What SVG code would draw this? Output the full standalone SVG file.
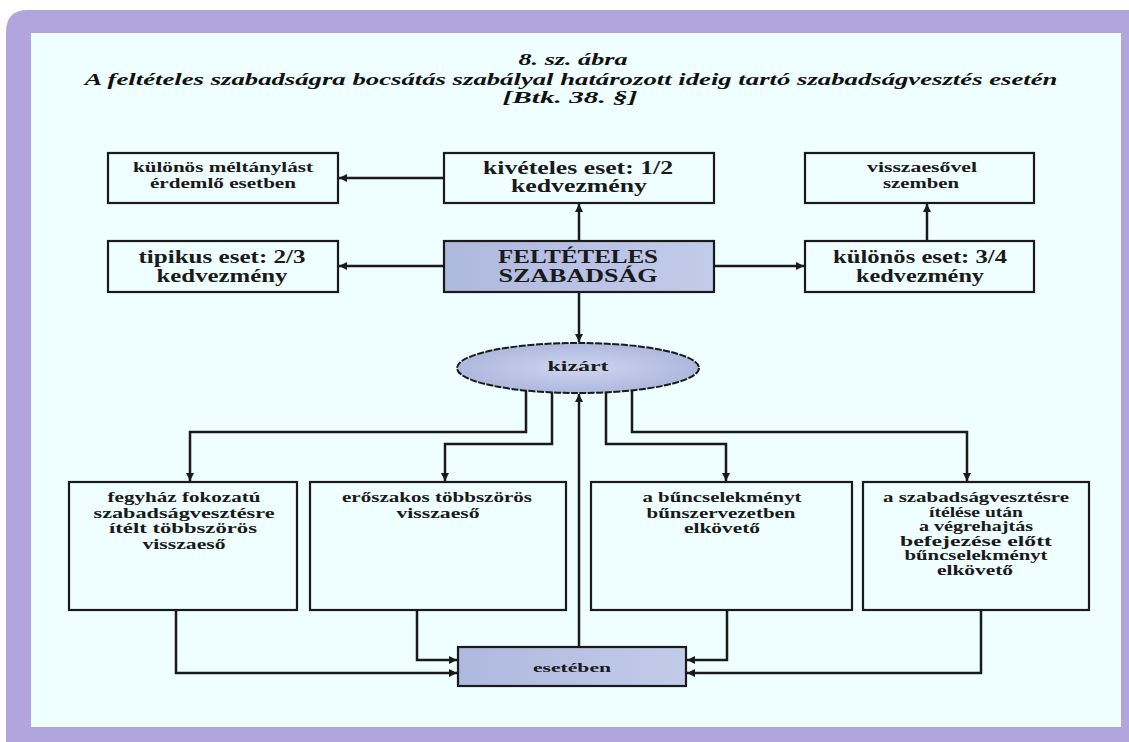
<svg xmlns="http://www.w3.org/2000/svg" width="1129" height="742" viewBox="0 0 1129 742">
<defs>
<style>
.t{font-family:"Liberation Serif","Times New Roman",serif;font-weight:bold;fill:#1a1a1a;text-anchor:middle}
.ti{font-family:"Liberation Serif","Times New Roman",serif;font-weight:bold;font-style:italic;fill:#111;text-anchor:middle;font-size:17px}
.box{fill:#effefe;stroke:#1a1a1a;stroke-width:2.2}
.hl{fill:url(#g);stroke:#1a1a1a;stroke-width:2.2}
.c{fill:none;stroke:#1a1a1a;stroke-width:2.5;marker-end:url(#a)}
.n{fill:none;stroke:#1a1a1a;stroke-width:2.5}
.f18{font-size:18px}.f14{font-size:14px}.f15{font-size:15px}.f13{font-size:13px}
</style>
<linearGradient id="g" x1="0" y1="0" x2="1" y2="0">
<stop offset="0" stop-color="#aeb9de"/>
<stop offset="1" stop-color="#c3cbea"/>
</linearGradient>
<radialGradient id="eg" cx="0.5" cy="0.5" r="0.5">
<stop offset="0" stop-color="#cfd6f0"/>
<stop offset="1" stop-color="#adb8de"/>
</radialGradient>
<marker id="a" viewBox="0 0 10 10" refX="10" refY="5" markerWidth="10" markerHeight="8" markerUnits="userSpaceOnUse" orient="auto">
<path d="M0,0 L10,5 L0,10 z" fill="#1a1a1a"/>
</marker>
</defs>
<rect x="0" y="0" width="1129" height="742" fill="#ffffff"/>
<path d="M28,10 H1129 V742 H6 V32 Q6,10 28,10 Z" fill="#b0a5dc"/>
<rect x="31" y="33" width="1090" height="694" fill="#effefe"/>

<g id="title">
<text class="ti" x="573" y="65" textLength="109" lengthAdjust="spacingAndGlyphs">8. sz. ábra</text>
<text class="ti" x="571" y="85" textLength="973" lengthAdjust="spacingAndGlyphs">A feltételes szabadságra bocsátás szabályal határozott ideig tartó szabadságvesztés esetén</text>
<text class="ti" x="570" y="103" textLength="135" lengthAdjust="spacingAndGlyphs">[Btk. 38. §]</text>
</g>

<g id="connectors">
<path class="c" d="M444,178 H339"/>
<path class="c" d="M579,241 V204"/>
<path class="c" d="M444,266 H339"/>
<path class="c" d="M714,266 H804"/>
<path class="c" d="M927,241 V204"/>
<path class="c" d="M579,292 V342"/>
<path class="c" d="M526,389 V432 H190 V481"/>
<path class="c" d="M552,391 V444 H445 V481"/>
<path class="c" d="M606,391 V444 H726 V481"/>
<path class="c" d="M632,389 V432 H967 V481"/>
<path class="c" d="M579,647 V394"/>
<path class="c" d="M176,610 V673 H457"/>
<path class="c" d="M417,610 V660 H457"/>
<path class="c" d="M727,610 V660 H687"/>
<path class="c" d="M981,610 V673 H687"/>
</g>

<g id="n_meltanylast">
<rect class="box" x="108" y="153" width="230" height="50"/>
<text class="t f14" x="223" y="172" textLength="180" lengthAdjust="spacingAndGlyphs">különös méltánylást</text>
<text class="t f14" x="223" y="188" textLength="146" lengthAdjust="spacingAndGlyphs">érdemlő esetben</text>
</g>

<g id="n_kiveteles">
<rect class="box" x="444" y="153" width="270" height="50"/>
<text class="t f18" x="578" y="174" textLength="190" lengthAdjust="spacingAndGlyphs">kivételes eset: 1/2</text>
<text class="t f18" x="579" y="192" textLength="136" lengthAdjust="spacingAndGlyphs">kedvezmény</text>
</g>

<g id="n_visszaesovel">
<rect class="box" x="805" y="153" width="229" height="50"/>
<text class="t f14" x="922" y="172" textLength="110" lengthAdjust="spacingAndGlyphs">visszaesővel</text>
<text class="t f14" x="921" y="188" textLength="76" lengthAdjust="spacingAndGlyphs">szemben</text>
</g>

<g id="n_tipikus">
<rect class="box" x="108" y="241" width="230" height="51"/>
<text class="t f18" x="222" y="263" textLength="167" lengthAdjust="spacingAndGlyphs">tipikus eset: 2/3</text>
<text class="t f18" x="222" y="282" textLength="131" lengthAdjust="spacingAndGlyphs">kedvezmény</text>
</g>

<g id="n_felteteles">
<rect class="hl" x="444" y="241" width="270" height="51"/>
<text class="t f18" x="578" y="263" textLength="160" lengthAdjust="spacingAndGlyphs">FELTÉTELES</text>
<text class="t f18" x="578" y="282" textLength="159" lengthAdjust="spacingAndGlyphs">SZABADSÁG</text>
</g>

<g id="n_kulonos">
<rect class="box" x="805" y="241" width="229" height="51"/>
<text class="t f18" x="920" y="263" textLength="174" lengthAdjust="spacingAndGlyphs">különös eset: 3/4</text>
<text class="t f18" x="920" y="282" textLength="128" lengthAdjust="spacingAndGlyphs">kedvezmény</text>
</g>

<g id="n_kizart">
<ellipse cx="578" cy="368" rx="121" ry="25" fill="url(#eg)" stroke="#1a1a1a" stroke-width="2" stroke-dasharray="7,1.5"/>
<text class="t f15" x="578" y="371" textLength="61" lengthAdjust="spacingAndGlyphs">kizárt</text>
</g>

<g id="n_fegyhaz">
<rect class="box" x="69" y="482" width="228" height="128"/>
<text class="t f14" x="184" y="502" textLength="153" lengthAdjust="spacingAndGlyphs">fegyház fokozatú</text>
<text class="t f14" x="184" y="517.5" textLength="181" lengthAdjust="spacingAndGlyphs">szabadságvesztésre</text>
<text class="t f14" x="183" y="533" textLength="148" lengthAdjust="spacingAndGlyphs">ítélt többszörös</text>
<text class="t f14" x="184" y="548.5" textLength="83" lengthAdjust="spacingAndGlyphs">visszaeső</text>
</g>

<g id="n_eroszakos">
<rect class="box" x="310" y="482" width="256" height="128"/>
<text class="t f14" x="437" y="502" textLength="190" lengthAdjust="spacingAndGlyphs">erőszakos többszörös</text>
<text class="t f14" x="438" y="517.5" textLength="83" lengthAdjust="spacingAndGlyphs">visszaeső</text>
</g>

<g id="n_bunszervezet">
<rect class="box" x="591" y="482" width="261" height="128"/>
<text class="t f14" x="722" y="502" textLength="159" lengthAdjust="spacingAndGlyphs">a bűncselekményt</text>
<text class="t f14" x="721" y="517.5" textLength="149" lengthAdjust="spacingAndGlyphs">bűnszervezetben</text>
<text class="t f14" x="722" y="533" textLength="76" lengthAdjust="spacingAndGlyphs">elkövető</text>
</g>

<g id="n_vegrehajtas">
<rect class="box" x="863" y="482" width="226" height="128"/>
<text class="t f14" x="976" y="502" textLength="186" lengthAdjust="spacingAndGlyphs">a szabadságvesztésre</text>
<text class="t f14" x="976" y="516.6" textLength="94" lengthAdjust="spacingAndGlyphs">ítélése után</text>
<text class="t f14" x="976" y="531.2" textLength="114" lengthAdjust="spacingAndGlyphs">a végrehajtás</text>
<text class="t f14" x="976" y="545.8" textLength="152" lengthAdjust="spacingAndGlyphs">befejezése előtt</text>
<text class="t f14" x="976" y="560.4" textLength="143" lengthAdjust="spacingAndGlyphs">bűncselekményt</text>
<text class="t f14" x="975" y="575" textLength="76" lengthAdjust="spacingAndGlyphs">elkövető</text>
</g>

<g id="n_eseteben">
<rect class="hl" x="458" y="647" width="228" height="39"/>
<text class="t f13" x="572" y="672" textLength="78" lengthAdjust="spacingAndGlyphs">esetében</text>
</g>
</svg>
